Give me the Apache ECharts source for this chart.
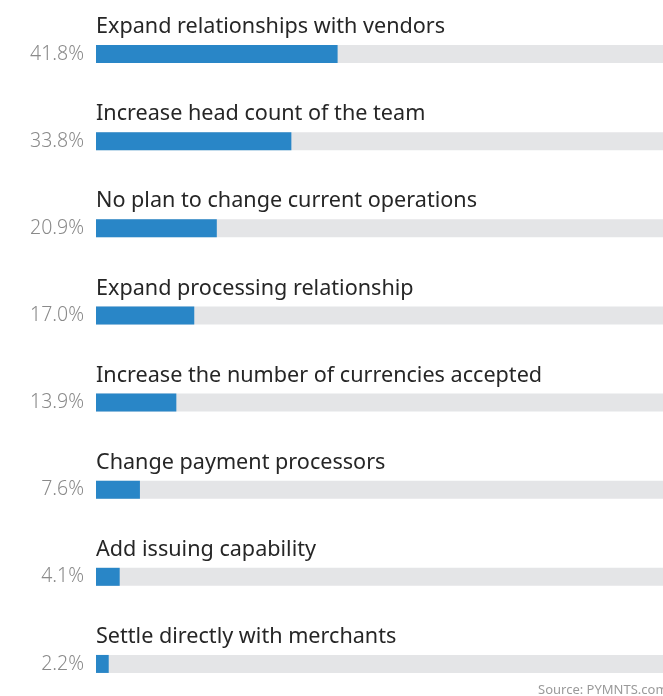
<!DOCTYPE html>
<html>
<head>
<meta charset="utf-8">
<script src="https://cdn.jsdelivr.net/npm/echarts@6/dist/echarts.min.js"></script>
<style>
  html, body { margin: 0; padding: 0; background: #fff; overflow: hidden; }
  #chart { width: 690px; height: 730px; }
</style>
</head>
<body>
<div id="chart"></div>
<script>
// Planned changes by respondents (share of respondents, %)
const categories = [
  'Expand relationships with vendors',
  'Increase head count of the team',
  'No plan to change current operations',
  'Expand processing relationship',
  'Increase the number of currencies accepted',
  'Change payment processors',
  'Add issuing capability',
  'Settle directly with merchants'
];
const shares = [41.8, 33.8, 20.9, 17.0, 13.9, 7.6, 4.1, 2.2];
const sourceNote = 'Source: PYMNTS.com';

const chart = echarts.init(document.getElementById('chart'), null, { renderer: 'canvas' });

chart.setOption({
  animation: false,
  grid: { left: 96, width: 578, top: 10.5, height: 697 },
  xAxis: {
    type: 'value', min: 0, max: 100,
    show: false
  },
  yAxis: {
    type: 'category',
    data: categories,
    inverse: true,
    axisLine: { show: false },
    axisTick: { show: false },
    splitLine: { show: false },
    axisLabel: {
      margin: 12,
      fontFamily: 'Noto Sans',
      fontSize: 19.5,
      fontWeight: 300,
      color: '#8a8a8a',
      formatter: (v, i) => shares[i].toFixed(1) + '%'
    }
  },
  series: [{
    type: 'bar',
    data: shares,
    barWidth: 18,
    itemStyle: { color: '#2986c7' },
    showBackground: true,
    backgroundStyle: { color: '#e4e5e7' },
    label: {
      show: true,
      position: [0, -7],
      align: 'left',
      verticalAlign: 'bottom',
      formatter: '{b}',
      fontFamily: 'Noto Sans',
      fontSize: 21.6,
      color: '#262626'
    }
  }],
  graphic: [{
    type: 'text',
    left: 538,
    top: 684,
    style: {
      text: sourceNote,
      fontFamily: 'Noto Sans',
      fontSize: 13,
      fill: '#9a9a9a'
    }
  }]
});
</script>
</body>
</html>
